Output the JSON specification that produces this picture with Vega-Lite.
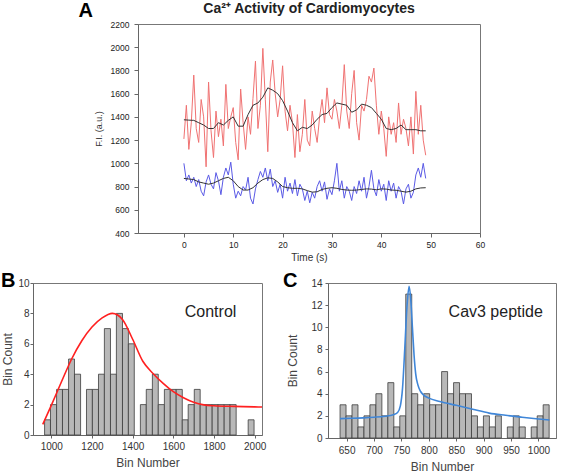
{
  "$schema": "https://vega.github.io/schema/vega-lite/v6.json",
  "padding": {"left": 0, "top": 1, "right": 0, "bottom": 0},
  "background": "white",
  "config": {
    "view": {"stroke": "#777", "strokeWidth": 1},
    "font": "Liberation Sans",
    "axis": {"grid": false, "domainColor": "#666", "tickColor": "#666", "labelColor": "#333", "titleColor": "#333", "labelFont": "Liberation Sans", "titleFont": "Liberation Sans", "titleFontWeight": "normal", "labelOverlap": false, "labelFlush": false}
  },
  "datasets": {
    "red": [
      {"t":0,"v":1210},{"t":0.5,"v":1500},{"t":1,"v":1120},{"t":1.5,"v":1350},{"t":2,"v":1760},{"t":2.5,"v":1300},{"t":3,"v":1180},{"t":3.5,"v":1550},{"t":4,"v":1400},{"t":4.5,"v":970},
      {"t":5,"v":1700},{"t":5.5,"v":1280},{"t":6,"v":1050},{"t":6.5,"v":1450},{"t":7,"v":1230},{"t":7.5,"v":1380},{"t":8,"v":1150},{"t":8.5,"v":1680},{"t":9,"v":1300},{"t":9.5,"v":1400},
      {"t":10,"v":1480},{"t":10.5,"v":1180},{"t":11,"v":1030},{"t":11.5,"v":1640},{"t":12,"v":1350},{"t":12.5,"v":1120},{"t":13,"v":1400},{"t":13.5,"v":1250},{"t":14,"v":1560},{"t":14.5,"v":1880},
      {"t":15,"v":1300},{"t":15.5,"v":1500},{"t":16,"v":1990},{"t":16.5,"v":1550},{"t":17,"v":1100},{"t":17.5,"v":1700},{"t":18,"v":1890},{"t":18.5,"v":1600},{"t":19,"v":1400},{"t":19.5,"v":1550},
      {"t":20,"v":1840},{"t":20.5,"v":1450},{"t":21,"v":1280},{"t":21.5,"v":1500},{"t":22,"v":1350},{"t":22.5,"v":1050},{"t":23,"v":1420},{"t":23.5,"v":1100},{"t":24,"v":1250},{"t":24.5,"v":1550},
      {"t":25,"v":1200},{"t":25.5,"v":1150},{"t":26,"v":1450},{"t":26.5,"v":1300},{"t":27,"v":1180},{"t":27.5,"v":1400},{"t":28,"v":1550},{"t":28.5,"v":1350},{"t":29,"v":1650},{"t":29.5,"v":1420},
      {"t":30,"v":1380},{"t":30.5,"v":1550},{"t":31,"v":1450},{"t":31.5,"v":1300},{"t":32,"v":1500},{"t":32.5,"v":1850},{"t":33,"v":1450},{"t":33.5,"v":1300},{"t":34,"v":1600},{"t":34.5,"v":1800},
      {"t":35,"v":1350},{"t":35.5,"v":1200},{"t":36,"v":1500},{"t":36.5,"v":1450},{"t":37,"v":1550},{"t":37.5,"v":1750},{"t":38,"v":1700},{"t":38.5,"v":1820},{"t":39,"v":1500},{"t":39.5,"v":1250},
      {"t":40,"v":1450},{"t":40.5,"v":1300},{"t":41,"v":1060},{"t":41.5,"v":1400},{"t":42,"v":1250},{"t":42.5,"v":1350},{"t":43,"v":1180},{"t":43.5,"v":1520},{"t":44,"v":1250},{"t":44.5,"v":1380},
      {"t":45,"v":1300},{"t":45.5,"v":1150},{"t":46,"v":1400},{"t":46.5,"v":1080},{"t":47,"v":1620},{"t":47.5,"v":1250},{"t":48,"v":1500},{"t":48.5,"v":1200},{"t":49,"v":1070}
    ],
    "blue": [
      {"t":0,"v":1000},{"t":0.5,"v":850},{"t":1,"v":900},{"t":1.5,"v":830},{"t":2,"v":880},{"t":2.5,"v":800},{"t":3,"v":860},{"t":3.5,"v":760},{"t":4,"v":720},{"t":4.5,"v":840},
      {"t":5,"v":900},{"t":5.5,"v":820},{"t":6,"v":780},{"t":6.5,"v":920},{"t":7,"v":850},{"t":7.5,"v":730},{"t":8,"v":880},{"t":8.5,"v":960},{"t":9,"v":900},{"t":9.5,"v":1010},
      {"t":10,"v":820},{"t":10.5,"v":700},{"t":11,"v":760},{"t":11.5,"v":720},{"t":12,"v":800},{"t":12.5,"v":770},{"t":13,"v":880},{"t":13.5,"v":700},{"t":14,"v":650},{"t":14.5,"v":780},
      {"t":15,"v":860},{"t":15.5,"v":930},{"t":16,"v":880},{"t":16.5,"v":960},{"t":17,"v":850},{"t":17.5,"v":950},{"t":18,"v":800},{"t":18.5,"v":850},{"t":19,"v":750},{"t":19.5,"v":820},
      {"t":20,"v":700},{"t":20.5,"v":880},{"t":21,"v":760},{"t":21.5,"v":830},{"t":22,"v":740},{"t":22.5,"v":860},{"t":23,"v":720},{"t":23.5,"v":820},{"t":24,"v":780},{"t":24.5,"v":680},
      {"t":25,"v":760},{"t":25.5,"v":660},{"t":26,"v":750},{"t":26.5,"v":700},{"t":27,"v":800},{"t":27.5,"v":850},{"t":28,"v":760},{"t":28.5,"v":840},{"t":29,"v":690},{"t":29.5,"v":780},
      {"t":30,"v":730},{"t":30.5,"v":850},{"t":31,"v":1000},{"t":31.5,"v":760},{"t":32,"v":850},{"t":32.5,"v":700},{"t":33,"v":800},{"t":33.5,"v":760},{"t":34,"v":680},{"t":34.5,"v":800},
      {"t":35,"v":740},{"t":35.5,"v":850},{"t":36,"v":760},{"t":36.5,"v":880},{"t":37,"v":700},{"t":37.5,"v":800},{"t":38,"v":940},{"t":38.5,"v":780},{"t":39,"v":720},{"t":39.5,"v":860},
      {"t":40,"v":760},{"t":40.5,"v":820},{"t":41,"v":680},{"t":41.5,"v":850},{"t":42,"v":760},{"t":42.5,"v":830},{"t":43,"v":700},{"t":43.5,"v":800},{"t":44,"v":760},{"t":44.5,"v":650},
      {"t":45,"v":780},{"t":45.5,"v":820},{"t":46,"v":700},{"t":46.5,"v":750},{"t":47,"v":900},{"t":47.5,"v":960},{"t":48,"v":880},{"t":48.5,"v":1000},{"t":49,"v":870}
    ],
    "redSmooth": [
      {"t":0,"v":1375},{"t":1,"v":1372},{"t":2,"v":1370},{"t":3,"v":1350},{"t":4,"v":1330},{"t":5,"v":1300},{"t":6,"v":1300},{"t":7,"v":1350},{"t":8,"v":1330},{"t":9,"v":1370},
      {"t":10,"v":1400},{"t":11,"v":1320},{"t":12,"v":1320},{"t":13,"v":1420},{"t":14,"v":1500},{"t":15,"v":1520},{"t":16,"v":1570},{"t":17,"v":1650},{"t":18,"v":1630},{"t":19,"v":1600},
      {"t":20,"v":1540},{"t":21,"v":1450},{"t":22,"v":1350},{"t":23,"v":1280},{"t":24,"v":1310},{"t":25,"v":1300},{"t":26,"v":1330},{"t":27,"v":1380},{"t":28,"v":1420},{"t":29,"v":1430},
      {"t":30,"v":1480},{"t":31,"v":1520},{"t":32,"v":1510},{"t":33,"v":1500},{"t":34,"v":1440},{"t":35,"v":1460},{"t":36,"v":1510},{"t":37,"v":1500},{"t":38,"v":1480},{"t":39,"v":1430},
      {"t":40,"v":1380},{"t":41,"v":1300},{"t":42,"v":1290},{"t":43,"v":1300},{"t":44,"v":1330},{"t":45,"v":1290},{"t":46,"v":1290},{"t":47,"v":1290},{"t":48,"v":1280},{"t":49,"v":1280}
    ],
    "blueSmooth": [
      {"t":0,"v":870},{"t":1,"v":865},{"t":2,"v":860},{"t":3,"v":840},{"t":4,"v":830},{"t":5,"v":820},{"t":6,"v":830},{"t":7,"v":850},{"t":8,"v":870},{"t":9,"v":880},
      {"t":10,"v":850},{"t":11,"v":800},{"t":12,"v":770},{"t":13,"v":770},{"t":14,"v":790},{"t":15,"v":830},{"t":16,"v":860},{"t":17,"v":875},{"t":18,"v":870},{"t":19,"v":840},
      {"t":20,"v":800},{"t":21,"v":790},{"t":22,"v":785},{"t":23,"v":785},{"t":24,"v":780},{"t":25,"v":765},{"t":26,"v":752},{"t":27,"v":755},{"t":28,"v":775},{"t":29,"v":785},
      {"t":30,"v":790},{"t":31,"v":785},{"t":32,"v":775},{"t":33,"v":770},{"t":34,"v":768},{"t":35,"v":770},{"t":36,"v":775},{"t":37,"v":780},{"t":38,"v":778},{"t":39,"v":772},
      {"t":40,"v":780},{"t":41,"v":778},{"t":42,"v":770},{"t":43,"v":768},{"t":44,"v":760},{"t":45,"v":752},{"t":46,"v":760},{"t":47,"v":780},{"t":48,"v":788},{"t":49,"v":790}
    ],
    "histB": [
      {"start":967,"end":996,"count":1},{"start":996,"end":1026,"count":2},{"start":1026,"end":1055,"count":3},{"start":1055,"end":1085,"count":3},
      {"start":1085,"end":1114,"count":5},{"start":1114,"end":1144,"count":4},{"start":1173,"end":1202,"count":3},{"start":1202,"end":1232,"count":3},
      {"start":1232,"end":1261,"count":4},{"start":1261,"end":1291,"count":7},{"start":1291,"end":1320,"count":4},{"start":1320,"end":1350,"count":8},
      {"start":1350,"end":1379,"count":7},{"start":1379,"end":1408,"count":6},{"start":1438,"end":1467,"count":2},{"start":1467,"end":1497,"count":3},
      {"start":1497,"end":1526,"count":4},{"start":1526,"end":1556,"count":2},{"start":1556,"end":1585,"count":3},{"start":1585,"end":1614,"count":3},
      {"start":1614,"end":1644,"count":3},{"start":1644,"end":1673,"count":1},{"start":1673,"end":1703,"count":2},{"start":1703,"end":1732,"count":3},
      {"start":1732,"end":1762,"count":2},{"start":1762,"end":1791,"count":2},{"start":1791,"end":1820,"count":2},{"start":1820,"end":1850,"count":2},
      {"start":1850,"end":1879,"count":2},{"start":1879,"end":1909,"count":2},{"start":1968,"end":1997,"count":1}
    ],
    "fitB": [
      {"x":958,"y":0.7},{"x":1000,"y":1.95},{"x":1050,"y":3.5},{"x":1100,"y":5.0},{"x":1150,"y":6.2},{"x":1200,"y":7.1},{"x":1250,"y":7.7},{"x":1300,"y":8.0},
      {"x":1350,"y":7.6},{"x":1400,"y":6.3},{"x":1450,"y":4.85},{"x":1500,"y":4.05},{"x":1550,"y":3.4},{"x":1600,"y":2.85},{"x":1650,"y":2.45},{"x":1700,"y":2.15},
      {"x":1750,"y":1.98},{"x":1800,"y":1.92},{"x":1900,"y":1.88},{"x":2000,"y":1.85},{"x":2036,"y":1.84}
    ],
    "histC": [
      {"start":638.0,"end":648.9,"count":3},{"start":648.9,"end":659.8,"count":2},{"start":659.8,"end":670.7,"count":3},{"start":670.7,"end":681.6,"count":1},
      {"start":681.6,"end":692.5,"count":2},{"start":692.5,"end":703.4,"count":3},{"start":703.4,"end":714.3,"count":4},{"start":714.3,"end":725.2,"count":2},
      {"start":725.2,"end":736.1,"count":5},{"start":736.1,"end":747.0,"count":1},{"start":747.0,"end":757.9,"count":2},{"start":757.9,"end":768.8,"count":13},
      {"start":768.8,"end":779.7,"count":4},{"start":779.7,"end":790.6,"count":3},{"start":790.6,"end":801.5,"count":4},{"start":801.5,"end":812.4,"count":3},
      {"start":812.4,"end":823.3,"count":3},{"start":823.3,"end":834.2,"count":6},{"start":834.2,"end":845.1,"count":4},{"start":845.1,"end":856.0,"count":5},
      {"start":856.0,"end":866.9,"count":4},{"start":866.9,"end":877.8,"count":4},{"start":877.8,"end":888.7,"count":2},{"start":888.7,"end":899.6,"count":1},
      {"start":899.6,"end":910.5,"count":2},{"start":910.5,"end":921.4,"count":1},{"start":921.4,"end":932.3,"count":2},{"start":943.2,"end":954.1,"count":1},
      {"start":954.1,"end":965.0,"count":2},{"start":965.0,"end":975.9,"count":1},{"start":986.8,"end":997.7,"count":1},{"start":997.7,"end":1008.6,"count":2},
      {"start":1008.6,"end":1019.5,"count":3}
    ],
    "fitC": [
      {"x":638,"y":1.75},{"x":660,"y":1.78},{"x":680,"y":1.82},{"x":700,"y":1.88},{"x":720,"y":1.97},{"x":735,"y":2.1},{"x":743,"y":2.3},{"x":748,"y":2.9},
      {"x":752,"y":4.5},{"x":756,"y":8.0},{"x":760,"y":11.8},{"x":764,"y":13.7},{"x":767,"y":12.5},{"x":770,"y":10.0},{"x":773,"y":7.5},{"x":776,"y":5.8},
      {"x":780,"y":4.8},{"x":785,"y":4.2},{"x":790,"y":3.9},{"x":800,"y":3.6},{"x":820,"y":3.3},{"x":850,"y":2.95},{"x":880,"y":2.6},{"x":910,"y":2.25},
      {"x":940,"y":2.05},{"x":970,"y":1.88},{"x":1000,"y":1.72},{"x":1020,"y":1.62}
    ]
  },
  "spacing": 7,
  "vconcat": [
    {
      "spacing": 0,
      "hconcat": [
        {
          "width": 60,
          "height": 5,
          "view": {"stroke": null},
          "title": {"text": "A", "anchor": "end", "fontSize": 20, "fontWeight": "bold", "color": "#000", "offset": 3},
          "data": {"values": []},
          "mark": {"type": "point", "opacity": 0},
          "encoding": {}
        },
        {
          "width": 342,
          "height": 209,
          "title": {"text": "Ca²⁺ Activity of Cardiomyocytes", "anchor": "middle", "fontSize": 14, "fontWeight": "bold", "color": "#222", "offset": 4},
          "layer": [
            {
              "data": {"name": "red"},
              "mark": {"type": "line", "color": "#f07272", "strokeWidth": 1},
              "encoding": {
                "x": {"field": "t", "type": "quantitative", "scale": {"domain": [-9.3, 60], "nice": false, "zero": false},
                      "axis": {"values": [0, 10, 20, 30, 40, 50, 60], "tickCount": 40, "format": "d", "title": "Time (s)", "labelFontSize": 8.5, "titleFontSize": 10, "tickSize": 4, "labelPadding": 3, "titlePadding": 4, "labelColor": "#222", "labelOverlap": false}},
                "y": {"field": "v", "type": "quantitative", "scale": {"domain": [400, 2200], "nice": false, "zero": false},
                      "axis": {"values": [400, 600, 800, 1000, 1200, 1400, 1600, 1800, 2000, 2200], "tickCount": 40, "format": "d", "title": "F.I. (a.u.)", "labelFontSize": 8.5, "titleFontSize": 9, "tickSize": 4, "labelPadding": 5, "titlePadding": 7, "labelColor": "#222", "labelOverlap": false}}
              }
            },
            {
              "data": {"name": "blue"},
              "mark": {"type": "line", "color": "#5a5ae6", "strokeWidth": 1},
              "encoding": {"x": {"field": "t", "type": "quantitative"}, "y": {"field": "v", "type": "quantitative"}}
            },
            {
              "data": {"name": "redSmooth"},
              "mark": {"type": "line", "color": "#333", "strokeWidth": 1},
              "encoding": {"x": {"field": "t", "type": "quantitative"}, "y": {"field": "v", "type": "quantitative"}}
            },
            {
              "data": {"name": "blueSmooth"},
              "mark": {"type": "line", "color": "#333", "strokeWidth": 1},
              "encoding": {"x": {"field": "t", "type": "quantitative"}, "y": {"field": "v", "type": "quantitative"}}
            }
          ]
        }
      ]
    },
    {
      "spacing": 15,
      "hconcat": [
        {
          "width": 229,
          "height": 152,
          "title": {"text": "B", "anchor": "start", "frame": "bounds", "fontSize": 20, "fontWeight": "bold", "color": "#000", "dx": -1, "offset": -13},
          "layer": [
            {
              "data": {"name": "histB"},
              "mark": {"type": "rect", "fill": "#b8b8b8", "stroke": "#3c3c3c", "strokeWidth": 0.8},
              "encoding": {
                "x": {"field": "start", "type": "quantitative", "scale": {"domain": [910, 2036], "nice": false, "zero": false},
                      "axis": {"values": [1000, 1200, 1400, 1600, 1800, 2000], "tickCount": 40, "format": "d", "title": "Bin Number", "labelFontSize": 10, "titleFontSize": 12, "tickSize": 3, "labelPadding": 3, "titlePadding": 6, "titleColor": "#444", "labelOverlap": false}},
                "x2": {"field": "end"},
                "y": {"field": "count", "type": "quantitative", "scale": {"domain": [0, 10], "nice": false},
                      "axis": {"values": [0, 2, 4, 6, 8, 10], "tickCount": 40, "format": "d", "title": "Bin Count", "labelFontSize": 10, "titleFontSize": 12, "tickSize": 3, "labelPadding": 1, "titlePadding": 3, "titleColor": "#444", "labelOverlap": false}},
                "y2": {"datum": 0}
              }
            },
            {
              "data": {"name": "fitB"},
              "mark": {"type": "line", "color": "#ff2020", "strokeWidth": 1.6, "interpolate": "monotone"},
              "encoding": {"x": {"field": "x", "type": "quantitative"}, "y": {"field": "y", "type": "quantitative"}}
            },
            {
              "data": {"values": [{"label": "Control"}]},
              "mark": {"type": "text", "fontSize": 16, "color": "#222", "align": "center", "baseline": "middle"},
              "encoding": {"x": {"datum": 1783}, "y": {"datum": 8.1}, "text": {"field": "label"}}
            }
          ]
        },
        {
          "width": 228,
          "height": 155,
          "title": {"text": "C", "anchor": "start", "frame": "bounds", "fontSize": 20, "fontWeight": "bold", "color": "#000", "dx": -4, "offset": -13},
          "layer": [
            {
              "data": {"name": "histC"},
              "mark": {"type": "rect", "fill": "#b8b8b8", "stroke": "#3c3c3c", "strokeWidth": 0.8},
              "encoding": {
                "x": {"field": "start", "type": "quantitative", "scale": {"domain": [616, 1032], "nice": false, "zero": false},
                      "axis": {"values": [650, 700, 750, 800, 850, 900, 950, 1000], "tickCount": 40, "format": "d", "title": "Bin Number", "labelFontSize": 10, "titleFontSize": 12, "tickSize": 3, "labelPadding": 4, "titlePadding": 6, "titleColor": "#444", "labelOverlap": false}},
                "x2": {"field": "end"},
                "y": {"field": "count", "type": "quantitative", "scale": {"domain": [0, 14], "nice": false},
                      "axis": {"values": [0, 2, 4, 6, 8, 10, 12, 14], "tickCount": 40, "format": "d", "title": "Bin Count", "labelFontSize": 10, "titleFontSize": 12, "tickSize": 3, "labelPadding": 3, "titlePadding": 11, "titleColor": "#444", "labelOverlap": false}},
                "y2": {"datum": 0}
              }
            },
            {
              "data": {"name": "fitC"},
              "mark": {"type": "line", "color": "#3f86d8", "strokeWidth": 1.6, "interpolate": "monotone"},
              "encoding": {"x": {"field": "x", "type": "quantitative"}, "y": {"field": "y", "type": "quantitative"}}
            },
            {
              "data": {"values": [{"label": "Cav3 peptide"}]},
              "mark": {"type": "text", "fontSize": 16, "color": "#222", "align": "center", "baseline": "middle"},
              "encoding": {"x": {"datum": 922}, "y": {"datum": 11.35}, "text": {"field": "label"}}
            }
          ]
        }
      ]
    }
  ]
}
